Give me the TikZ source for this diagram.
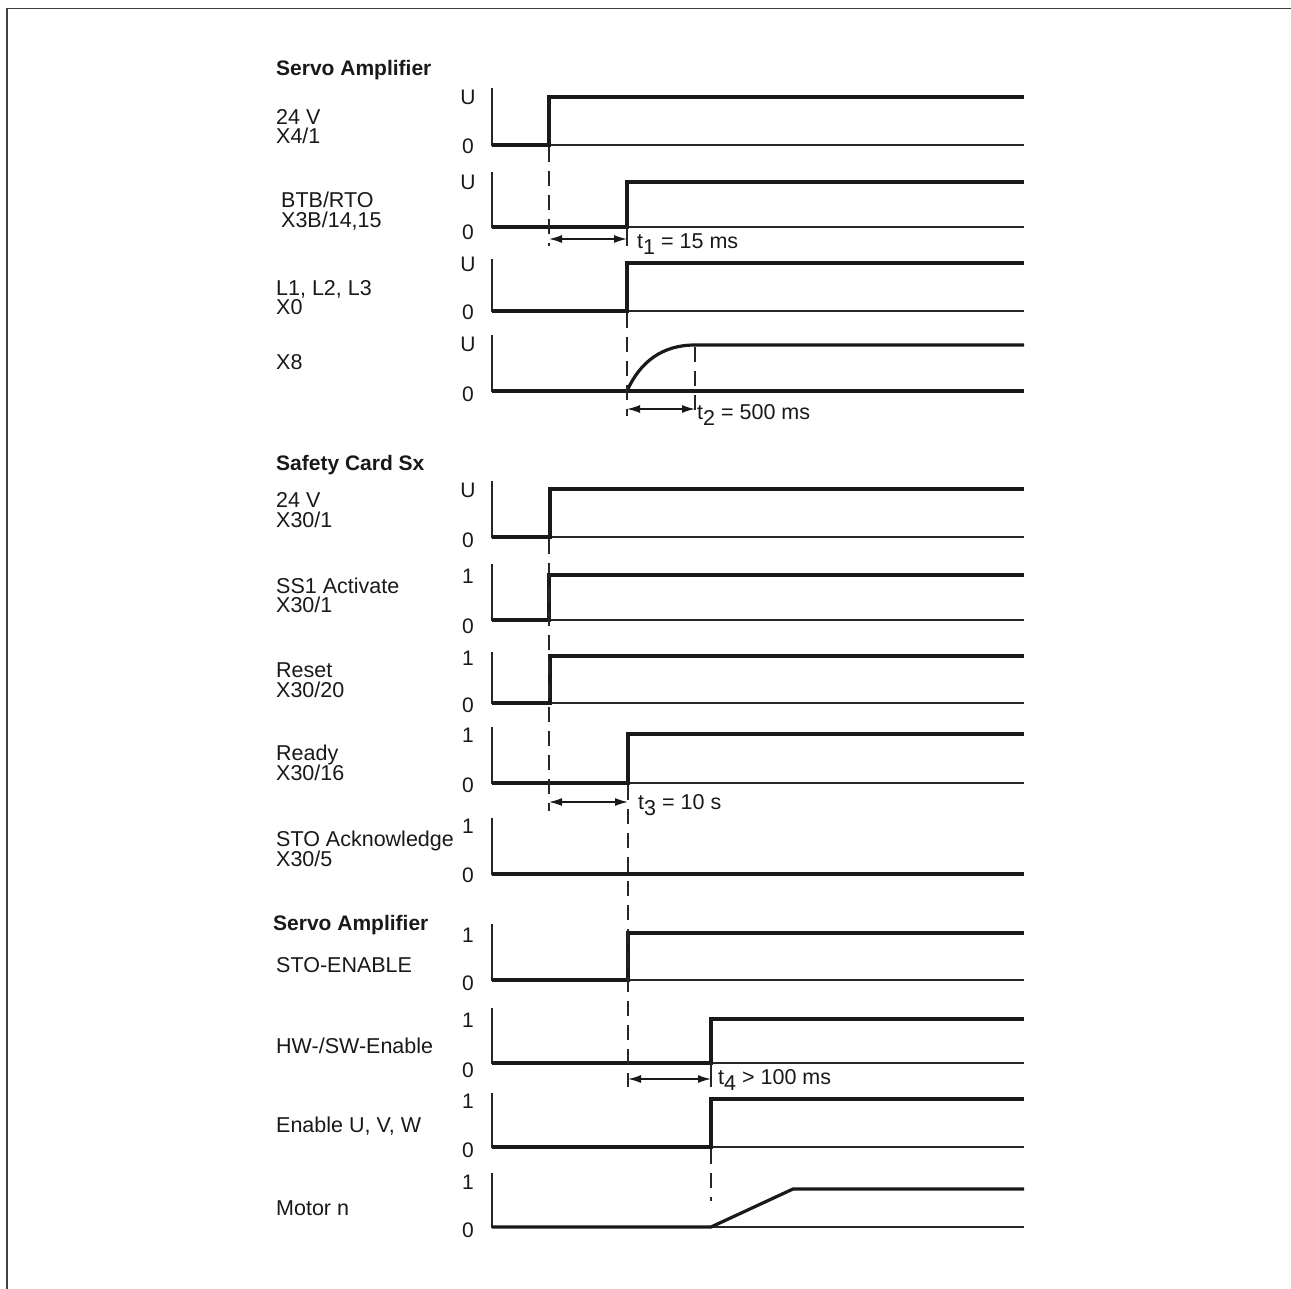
\documentclass[tikz,border=0pt]{standalone}
\usepackage{fontspec}
\setmainfont{Liberation Sans}
\usetikzlibrary{arrows.meta}
\begin{document}
\begin{tikzpicture}[x=1pt,y=-1pt,
  sig/.style={line width=3.2pt, line join=miter, color=black!90},
  thinline/.style={line width=1.4pt, color=black!85},
  axisline/.style={line width=1.5pt, color=black!85},
  dashline/.style={line width=1.4pt, color=black!85, dash pattern=on 15pt off 9pt},
  dim/.style={line width=1.5pt, color=black!90, {Latex[length=13pt,width=8pt]}-{Latex[length=13pt,width=8pt]}},
  lbl/.style={anchor=base west, inner sep=0pt, text=black!90, font=\fontsize{21.5}{26}\selectfont},
  hdr/.style={anchor=base west, inner sep=0pt, text=black!90, font=\fontsize{21}{26}\selectfont\bfseries},
  ax/.style={anchor=base, inner sep=0pt, text=black!90, font=\fontsize{21}{26}\selectfont},
]
\useasboundingbox (0,0) rectangle (1291,1289);
\fill[white] (0,0) rectangle (1291,1289);
\draw[line width=1.8pt, black!75] (7,1289) -- (7,8.5) -- (1291,8.5);

% ---- axes and baselines ----
\foreach \t/\b in {88/145,172/227,259/311,335/391,481/537,564/620,652/703,727/783,818/874,924/980,1008/1063,1093/1147,1173/1227}
  \draw[axisline] (492,\t) -- (492,\b) -- (1024,\b);

% ---- signals ----
\draw[sig] (492,145) -- (549,145) -- (549,97) -- (1024,97);
\draw[sig] (492,227) -- (627,227) -- (627,182) -- (1024,182);
\draw[sig] (492,311) -- (627,311) -- (627,263) -- (1024,263);
\draw[sig] (492,391) -- (1024,391);
\draw[sig] (627,391) .. controls (640,362) and (662,345) .. (695,345) -- (1024,345);
\draw[sig] (492,537) -- (550,537) -- (550,489) -- (1024,489);
\draw[sig] (492,620) -- (549,620) -- (549,575) -- (1024,575);
\draw[sig] (492,703) -- (550,703) -- (550,656) -- (1024,656);
\draw[sig] (492,783) -- (628,783) -- (628,734) -- (1024,734);
\draw[sig] (492,874) -- (1024,874);
\draw[sig] (492,980) -- (628,980) -- (628,933) -- (1024,933);
\draw[sig] (492,1063) -- (711,1063) -- (711,1019) -- (1024,1019);
\draw[sig] (492,1147) -- (711,1147) -- (711,1099) -- (1024,1099);
\draw[sig] (492,1227) -- (711,1227) -- (793,1189) -- (1024,1189);

% ---- dashed guide lines ----
\draw[dashline] (549,147) -- (549,246);
\draw[dashline] (627,313) -- (627,416);
\draw[dashline] (695,347) -- (695,416);
\draw[dashline] (549,539) -- (549,811);
\draw[dashline] (628,785) -- (628,1087);
\draw[dashline] (711,1149) -- (711,1201);
\draw[thinline] (627,227) -- (627,246);
\draw[thinline] (711,1063) -- (711,1087);

% ---- time dimensions ----
\draw[dim] (549,239) -- (627,239);
\draw[dim] (627,409) -- (695,409);
\draw[dim] (549,802) -- (628,802);
\draw[dim] (628,1079) -- (711,1079);
\node[lbl] (t1) at (637,249) {t\raisebox{-6pt}{1} = 15 ms};
\node[lbl] (t2) at (697,419) {t\raisebox{-6pt}{2} = 500 ms};
\node[lbl] (t3) at (638,809) {t\raisebox{-6pt}{3} = 10 s};
\node[lbl] (t4) at (718,1084) {t\raisebox{-6pt}{4} > 100 ms};

% ---- axis labels ----
\node[ax] (u1) at (468,105) {U};  \node[ax] (z1) at (468,154) {0};
\node[ax] (u2) at (468,190) {U};  \node[ax] (z2) at (468,240) {0};
\node[ax] (u3) at (468,272) {U};  \node[ax] (z3) at (468,320) {0};
\node[ax] (u4) at (468,352) {U};  \node[ax] (z4) at (468,401) {0};
\node[ax] (u5) at (468,497) {U};  \node[ax] (z5) at (468,547) {0};
\node[ax] (u6) at (468,583) {1};  \node[ax] (z6) at (468,633) {0};
\node[ax] (u7) at (468,665) {1};  \node[ax] (z7) at (468,712) {0};
\node[ax] (u8) at (468,742) {1};  \node[ax] (z8) at (468,792) {0};
\node[ax] (u9) at (468,833) {1};  \node[ax] (z9) at (468,882) {0};
\node[ax] (u10) at (468,942) {1}; \node[ax] (z10) at (468,990) {0};
\node[ax] (u11) at (468,1027) {1}; \node[ax] (z11) at (468,1077) {0};
\node[ax] (u12) at (468,1108) {1}; \node[ax] (z12) at (468,1157) {0};
\node[ax] (u13) at (468,1189) {1}; \node[ax] (z13) at (468,1237) {0};

% ---- row labels ----
\node[hdr] (h1) at (276,76) {Servo Amplifier};
\node[lbl] (a1) at (276,125) {24 V};
\node[lbl] (b1) at (276,144) {X4/1};
\node[lbl] (a2) at (281,208) {BTB/RTO};
\node[lbl] (b2) at (281,228) {X3B/14,15};
\node[lbl] (a3) at (276,296) {L1, L2, L3};
\node[lbl] (b3) at (276,315) {X0};
\node[lbl] (a4) at (276,370) {X8};
\node[hdr] (h2) at (276,470) {Safety Card Sx};
\node[lbl] (a5) at (276,507) {24 V};
\node[lbl] (b5) at (276,527) {X30/1};
\node[lbl] (a6) at (276,593) {SS1 Activate};
\node[lbl] (b6) at (276,612) {X30/1};
\node[lbl] (a7) at (276,677) {Reset};
\node[lbl] (b7) at (276,697) {X30/20};
\node[lbl] (a8) at (276,760) {Ready};
\node[lbl] (b8) at (276,780) {X30/16};
\node[lbl] (a9) at (276,846) {STO Acknowledge};
\node[lbl] (b9) at (276,866) {X30/5};
\node[hdr] (h3) at (273,930) {Servo Amplifier};
\node[lbl] (a10) at (276,972) {STO-ENABLE};
\node[lbl] (a11) at (276,1053) {HW-/SW-Enable};
\node[lbl] (a12) at (276,1132) {Enable U, V, W};
\node[lbl] (a13) at (276,1215) {Motor n};
\end{tikzpicture}
\end{document}
